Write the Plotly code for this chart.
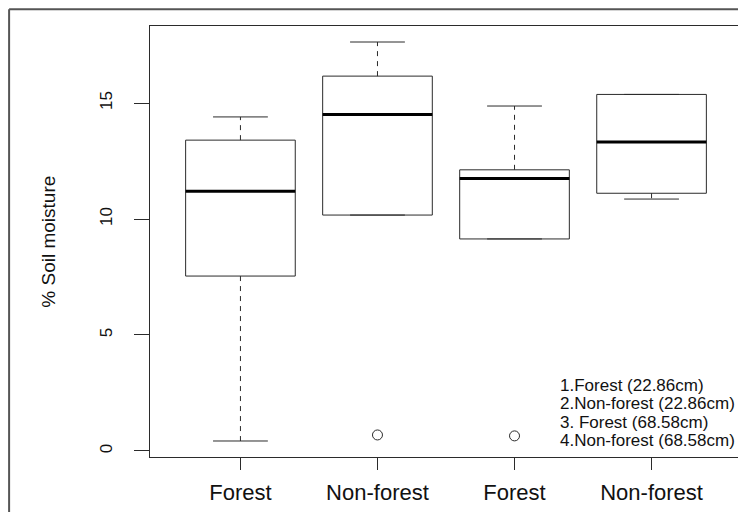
import plotly.graph_objects as go

# ---- data ----
categories = ["Forest", "Non-forest", "Forest", "Non-forest"]
positions = [1, 2, 3, 4]
lower_whisker = [0.43, 10.17, 9.14, 10.86]
q1 = [7.54, 10.17, 9.14, 11.11]
median = [11.20, 14.50, 11.75, 13.32]
q3 = [13.40, 16.16, 12.12, 15.37]
upper_whisker = [14.40, 17.63, 14.87, 15.37]
outlier_x = [2, 3]
outlier_y = [0.69, 0.65]
legend_lines = ["1.Forest (22.86cm)", "2.Non-forest (22.86cm)",
                "3. Forest (68.58cm)", "4.Non-forest (68.58cm)"]
y_ticks = [0, 5, 10, 15]

BOX_W = 0.8
CAP_W = 0.4
LINE = "#2b2b2b"
FONT = "Liberation Sans, Arial, sans-serif"

fig = go.Figure()

for p, lo, a, m, b, hi in zip(positions, lower_whisker, q1, median, q3, upper_whisker):
    # box outline
    fig.add_trace(go.Scatter(
        x=[p - BOX_W / 2, p + BOX_W / 2, p + BOX_W / 2, p - BOX_W / 2, p - BOX_W / 2],
        y=[a, a, b, b, a], mode="lines",
        line=dict(color=LINE, width=1), hoverinfo="skip", showlegend=False))
    # whiskers (dashed)
    fig.add_trace(go.Scatter(
        x=[p, p, None, p, p], y=[b, hi, None, a, lo], mode="lines",
        line=dict(color=LINE, width=1, dash="5px,5px"), hoverinfo="skip", showlegend=False))
    # staples
    fig.add_trace(go.Scatter(
        x=[p - CAP_W / 2, p + CAP_W / 2, None, p - CAP_W / 2, p + CAP_W / 2],
        y=[hi, hi, None, lo, lo], mode="lines",
        line=dict(color=LINE, width=1), hoverinfo="skip", showlegend=False))
    # median
    fig.add_trace(go.Scatter(
        x=[p - BOX_W / 2, p + BOX_W / 2], y=[m, m], mode="lines",
        line=dict(color="black", width=3), hoverinfo="skip", showlegend=False))

# outliers
fig.add_trace(go.Scatter(
    x=outlier_x, y=outlier_y, mode="markers",
    marker=dict(symbol="circle-open", size=10, color=LINE, line=dict(width=1)),
    hoverinfo="skip", showlegend=False))

# legend-like text block
legend_y = [0.165, 0.123, 0.081, 0.039]
for txt, yy in zip(legend_lines, legend_y):
    fig.add_annotation(text=txt, xref="paper", yref="paper", x=0.689, y=yy,
                       xanchor="left", yanchor="middle", showarrow=False,
                       font=dict(family=FONT, size=17, color="#111"))

# y axis title
fig.add_annotation(text="% Soil moisture", xref="paper", yref="paper",
                   x=-0.172, y=0.5, textangle=-90, showarrow=False,
                   xanchor="center", yanchor="middle",
                   font=dict(family=FONT, size=19, color="#111"))

# outer frame (left and top edges visible)
fig.add_shape(type="line", xref="paper", yref="paper", x0=-0.238, x1=-0.238,
              y0=1.039, y1=-0.2, line=dict(color="#555", width=2))
fig.add_shape(type="line", xref="paper", yref="paper", x0=-0.238, x1=1.1,
              y0=1.039, y1=1.039, line=dict(color="#555", width=2))

fig.update_layout(
    width=738, height=504,
    margin=dict(l=142, r=4, t=18, b=55),
    paper_bgcolor="white", plot_bgcolor="white",
    font=dict(family=FONT, color="#111"),
    xaxis=dict(range=[0.34, 4.66], tickvals=positions, ticktext=categories,
               showgrid=False, zeroline=False, showline=True, mirror=True,
               linecolor=LINE, linewidth=1, ticks="outside", ticklen=12,
               tickcolor=LINE, tickfont=dict(family=FONT, size=22, color="#111"),
               ticklabelstandoff=4),
    yaxis=dict(range=[-0.26, 18.32], tickvals=y_ticks,
               showgrid=False, zeroline=False, showline=True, mirror=True,
               linecolor=LINE, linewidth=1, ticks="outside", ticklen=15,
               tickcolor=LINE, tickangle=-90,
               tickfont=dict(family=FONT, size=17, color="#111"),
               ticklabelstandoff=15),
)

fig.write_html("out.html")
